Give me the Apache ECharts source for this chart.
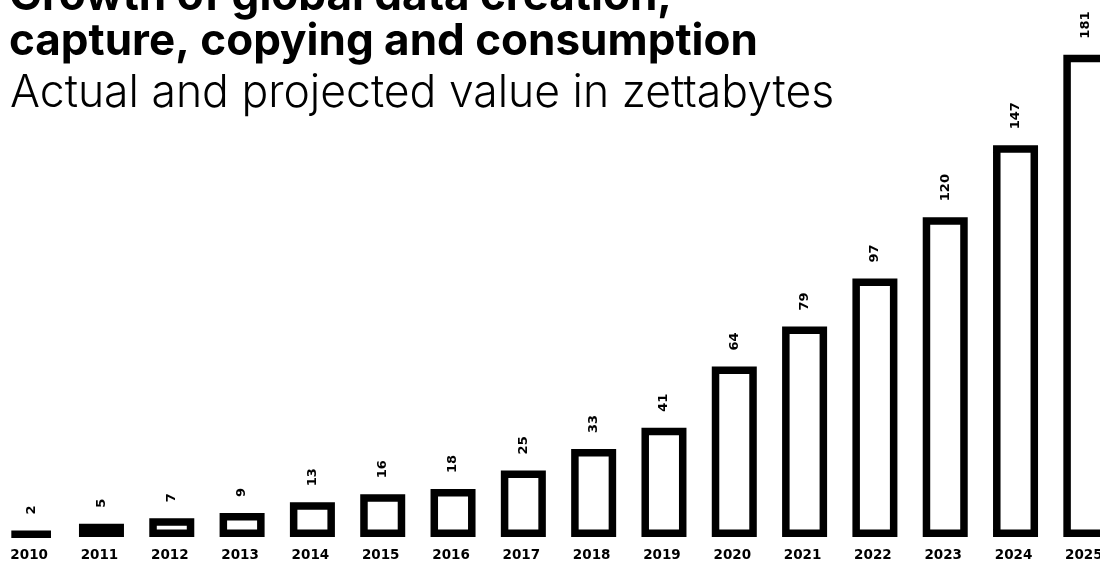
<!DOCTYPE html>
<html>
<head>
<meta charset="utf-8">
<script src="https://cdn.jsdelivr.net/npm/echarts@6/dist/echarts.min.js"></script>
<style>
html,body{margin:0;padding:0;background:#fff;}
#chart{width:1100px;height:562px;}
</style>
</head>
<body>
<div id="chart"></div>
<script>
const years = ['2010','2011','2012','2013','2014','2015','2016','2017','2018','2019','2020','2021','2022','2023','2024','2025'];
const zettabytes = [2, 5, 7, 9, 13, 16, 18, 25, 33, 41, 64, 79, 97, 120, 147, 181];
const titleText = 'Growth of global data creation,\ncapture, copying and consumption';
const subtitleText = 'Actual and projected value in zettabytes';

const chart = echarts.init(document.getElementById('chart'), null, {renderer: 'canvas'});
chart.setOption({
  backgroundColor: '#ffffff',
  animation: false,
  title: [
    {
      text: titleText,
      left: 9,
      top: -26,
      padding: 0,
      textStyle: {fontFamily: 'Inter', fontWeight: 700, fontSize: 44, lineHeight: 45, color: '#000'}
    },
    {
      text: subtitleText,
      left: 10,
      top: 69,
      padding: 0,
      textStyle: {fontFamily: 'Inter', fontWeight: 300, fontSize: 44.5, lineHeight: 50, color: '#000'}
    }
  ],
  grid: {left: -4, width: 1125, top: 4, bottom: 25, containLabel: false, outerBoundsMode: 'none'},
  xAxis: {
    type: 'category',
    data: years,
    axisLine: {show: false},
    axisTick: {show: false},
    axisLabel: {
      margin: 11,
      fontFamily: 'DejaVu Sans',
      fontWeight: 'bold',
      fontSize: 13.5,
      color: '#000',
      padding: [0, 4, 0, 0]
    }
  },
  yAxis: {
    type: 'value',
    min: 0,
    max: 200,
    show: false,
    splitLine: {show: false}
  },
  series: [{
    type: 'bar',
    data: zettabytes,
    barWidth: 45,
    itemStyle: {color: '#ffffff', borderColor: '#000000', borderWidth: 7.5},
    label: {
      show: true,
      position: 'top',
      rotate: 90,
      align: 'left',
      verticalAlign: 'middle',
      distance: 16,
      fontFamily: 'DejaVu Sans',
      fontWeight: 'bold',
      fontSize: 13,
      color: '#000'
    }
  }]
});
</script>
</body>
</html>
